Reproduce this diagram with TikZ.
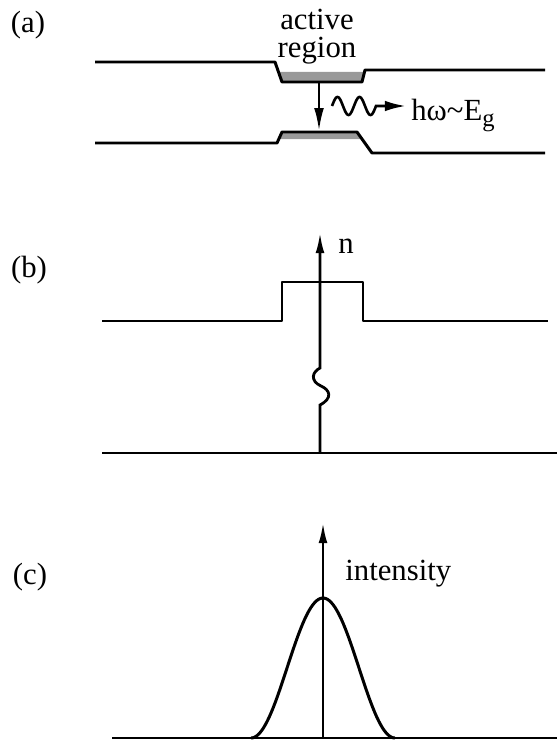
\documentclass[tikz,border=0pt]{standalone}
\usepackage{fontspec}
\setmainfont{Liberation Serif}
\usetikzlibrary{arrows.meta}
\begin{document}
\begin{tikzpicture}[
  x=0.02cm, y=-0.02cm,
  every node/.style={font=\fontsize{17.5}{16}\selectfont, inner sep=0pt},
  band/.style={line width=1.7pt, line join=round},
  actv/.style={fill=black!40},
  axis/.style={line width=1.6pt, -{Latex[length=12pt,width=5pt]}},
]
\useasboundingbox (0,0) rectangle (557,740);

% (a) conduction and valence band
\node (la) at (28,25) {(a)};
\fill[actv] (278.5,72) -- (282,82) -- (362,82) -- (364.5,72) -- cycle;
\fill[actv] (282,132) -- (357,132) -- (362,139) -- (279,139) -- cycle;
\draw[band] (95,62) -- (275,62) -- (282,82) -- (362,82) -- (365,70) -- (545,70);
\draw[band] (95,143) -- (277,143) -- (282,132) -- (357,132) -- (372,153) -- (545,153);
\node[align=center] (act) at (317,37) {active\\region};
\coordinate (cbw) at (319,82);
\coordinate (vbw) at (319,131);
\draw[line width=1.4pt, -{Latex[length=13pt,width=5.5pt]}] (cbw) -- (vbw);
\coordinate (wtip) at (406,106);
\draw[line width=1.5pt, -{Latex[length=12pt,width=6pt]}]
  plot[domain=0:44, samples=60, smooth] ({332+\x}, {106-9*sin(\x*360/22)}) -- (wtip);
\node[anchor=base west] (ph) at (411,120) {hω\textasciitilde E\raisebox{-0.45ex}{\fontsize{14}{14}\selectfont g}};

% (b) refractive index
\node (lb) at (29,270) {(b)};
\draw[band] (102,321) -- (282,321) -- (282,282) -- (363,282) -- (363,321) -- (548,321);
\draw[line width=1.4pt] (102,453) -- (557,453);
\coordinate (nb) at (320,453);
\coordinate (nt) at (320,232);
\draw[axis] (nb) -- (320,405) .. controls (333,398) and (330,390) .. (321,386)
  .. controls (310,381) and (312,372) .. (320,368) -- (nt);
\node[anchor=base west] (n) at (338,253) {n};

% (c) optical intensity
\node (lc) at (30,577) {(c)};
\draw[line width=1.4pt] (112,738) -- (557,738);
\draw[line width=1.7pt] plot[domain=-72:72, samples=80, smooth]
  ({323+\x}, {738-140*pow(cos(\x*90/72),2)});
\coordinate (ib) at (323,738);
\coordinate (it) at (323,522);
\draw[axis] (ib) -- (it);
\node[anchor=base west] (int) at (345,580) {intensity};
\end{tikzpicture}
\end{document}
